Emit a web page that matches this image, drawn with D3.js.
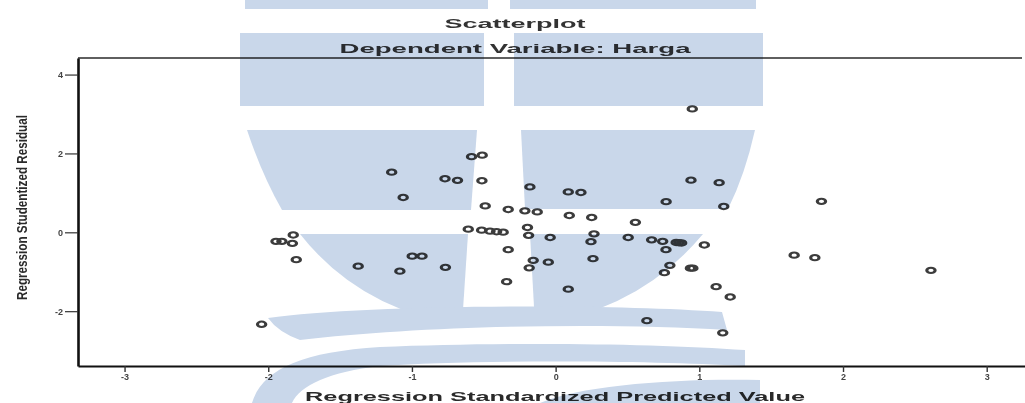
<!DOCTYPE html>
<html>
<head>
<meta charset="utf-8">
<script src="https://cdn.jsdelivr.net/npm/d3@7"></script>
<style>
  html, body { margin: 0; padding: 0; background: #ffffff; }
  svg { display: block; }
  text { font-family: "Liberation Sans", Arial, sans-serif; }
</style>
</head>
<body>
<svg id="chart" width="1025" height="403"></svg>
<script>
// Regression diagnostics: standardized predicted value vs studentized residual
const predicted = [
  -2.046, -1.826, -1.946, -1.905, -1.832, -1.805, -1.374, -1.141, -1.061, -1.084,
  -0.998, -0.930, -0.770, -0.683, -0.767, -0.585, -0.511, -0.513, -0.490, -0.608,
  -0.515, -0.457, -0.411, -0.365, -0.330, -0.330, -0.341, -0.214, -0.128, -0.179,
  -0.196, -0.188, -0.038, -0.156, -0.051, -0.184, 0.088, 0.176, 0.095, 0.251,
  0.267, 0.246, 0.088, 0.260, 0.555, 0.505, 0.668, 0.745, 0.839, 0.858,
  0.877, 1.035, 0.768, 0.795, 0.757, 0.938, 0.955, 1.117, 1.215, 0.635,
  1.163, 0.951, 0.942, 1.138, 0.769, 1.170, 1.850, 1.660, 1.804, 2.612
];
const residual = [
  -2.333, -0.067, -0.229, -0.229, -0.280, -0.693, -0.858, 1.525, 0.883, -0.985,
  -0.605, -0.605, 1.360, 1.317, -0.888, 1.918, 1.956, 1.309, 0.670, 0.080,
  0.055, 0.029, 0.016, 0.004, 0.579, -0.440, -1.251, 0.544, 0.518, 1.152,
  0.123, -0.077, -0.131, -0.711, -0.757, -0.901, 1.025, 1.010, 0.427, 0.376,
  -0.039, -0.237, -1.441, -0.668, 0.252, -0.131, -0.191, -0.229, -0.257, -0.264,
  -0.270, -0.321, -0.440, -0.838, -1.023, -0.909, -0.909, -1.378, -1.639, -2.240,
  -2.549, 3.129, 1.322, 1.259, 0.777, 0.655, 0.785, -0.579, -0.643, -0.965
];
const xTicks = [-3, -2, -1, 0, 1, 2, 3];
const yTicks = [-2, 0, 2, 4];
const chartTitle = "Scatterplot";
const chartSubtitle = "Dependent Variable: Harga";
const xTitle = "Regression Standardized Predicted Value";
const yTitle = "Regression Studentized Residual";

const svg = d3.select("#chart");
const x = d3.scaleLinear().domain([-3.324, 3.27]).range([78, 1025.5]);
const y = d3.scaleLinear().domain([-3.39, 4.42]).range([366, 58]);

// top border of the plot frame
svg.append("line")
  .attr("x1", 78).attr("x2", 1022).attr("y1", 58).attr("y2", 58)
  .attr("stroke", "#2a2a2a").attr("stroke-width", 1.6);

// y axis
const yAxis = svg.append("g")
  .attr("transform", "translate(78,0)")
  .call(d3.axisLeft(y).tickValues(yTicks).tickSize(13).tickSizeOuter(0)
    .tickPadding(2).tickFormat(d => String(d)));
yAxis.select(".domain").attr("stroke", "#111").attr("stroke-width", 2.6);
yAxis.selectAll(".tick line").attr("stroke", "#333").attr("stroke-width", 1.2);
yAxis.selectAll(".tick text").attr("font-size", 9).attr("font-weight", "bold")
  .attr("fill", "#444").attr("font-family", "'Liberation Sans', Arial, sans-serif");

// x axis
const xAxis = svg.append("g")
  .attr("transform", "translate(0,366)")
  .call(d3.axisBottom(x).tickValues(xTicks).tickSize(6).tickSizeOuter(0)
    .tickPadding(2).tickFormat(d => String(d)));
xAxis.select(".domain").attr("stroke", "#111").attr("stroke-width", 2.2);
xAxis.selectAll(".tick line").attr("stroke", "#333").attr("stroke-width", 1.4);
xAxis.selectAll(".tick text").attr("font-size", 9).attr("font-weight", "bold")
  .attr("fill", "#444").attr("font-family", "'Liberation Sans', Arial, sans-serif");

// ring markers (slightly wide ovals)
svg.append("g").selectAll("g.pt")
  .data(d3.range(predicted.length))
  .join("g")
  .attr("class", "pt")
  .attr("transform", i => `translate(${x(predicted[i])},${y(residual[i])}) scale(1.55,1)`)
  .append("circle")
  .attr("r", 2.7)
  .attr("fill", "none")
  .attr("stroke", "#3c3c3c")
  .attr("stroke-width", 2);

// titles
svg.append("text").text(chartTitle)
  .attr("x", 515).attr("y", 27.5).attr("text-anchor", "middle")
  .attr("font-size", 13).attr("font-weight", "bold").attr("fill", "#333")
  .attr("textLength", 141).attr("lengthAdjust", "spacingAndGlyphs");
svg.append("text").text(chartSubtitle)
  .attr("x", 515).attr("y", 53).attr("text-anchor", "middle")
  .attr("font-size", 13).attr("font-weight", "bold").attr("fill", "#333")
  .attr("textLength", 351).attr("lengthAdjust", "spacingAndGlyphs");
svg.append("text").text(xTitle)
  .attr("x", 555).attr("y", 400.5).attr("text-anchor", "middle")
  .attr("font-size", 13).attr("font-weight", "bold").attr("fill", "#2a2a2a")
  .attr("textLength", 500).attr("lengthAdjust", "spacingAndGlyphs");
svg.append("text").text(yTitle)
  .attr("transform", "translate(27,207.5) rotate(-90)")
  .attr("text-anchor", "middle")
  .attr("font-size", 15).attr("font-weight", "bold").attr("fill", "#2a2a2a")
  .attr("textLength", 185).attr("lengthAdjust", "spacingAndGlyphs");

// pale blue emblem laid over the page
const wm = svg.append("g")
  .style("mix-blend-mode", "multiply")
  .attr("fill", "#c9d7ea");
const emblem = [
  "M245,0 H488 V9 H245 Z",
  "M510,0 H756 V9 H510 Z",
  "M240,33 H484 V106 H240 Z",
  "M514,33 H763 V106 H514 Z",
  "M247,130 L477,130 L471,210 L282,210 Q262,175 247,130 Z",
  "M521,130 L755,130 Q745,175 728,209 L525,209 Z",
  "M300,234 L468,234 L462,325 Q360,310 300,234 Z",
  "M530,234 L703,234 Q640,310 535,325 Z",
  "M268,318 C360,305 600,303 722,312 L727,330 C600,322 420,326 300,340 Q278,332 268,318 Z",
  "M252,403 C262,370 300,352 380,347 C500,342 650,343 745,350 L745,366 C640,360 470,360 380,366 C330,372 300,385 292,403 Z",
  "M540,403 C580,385 680,378 760,380 L760,403 Z"
];
wm.selectAll("path").data(emblem).join("path").attr("d", d => d);
</script>
</body>
</html>
